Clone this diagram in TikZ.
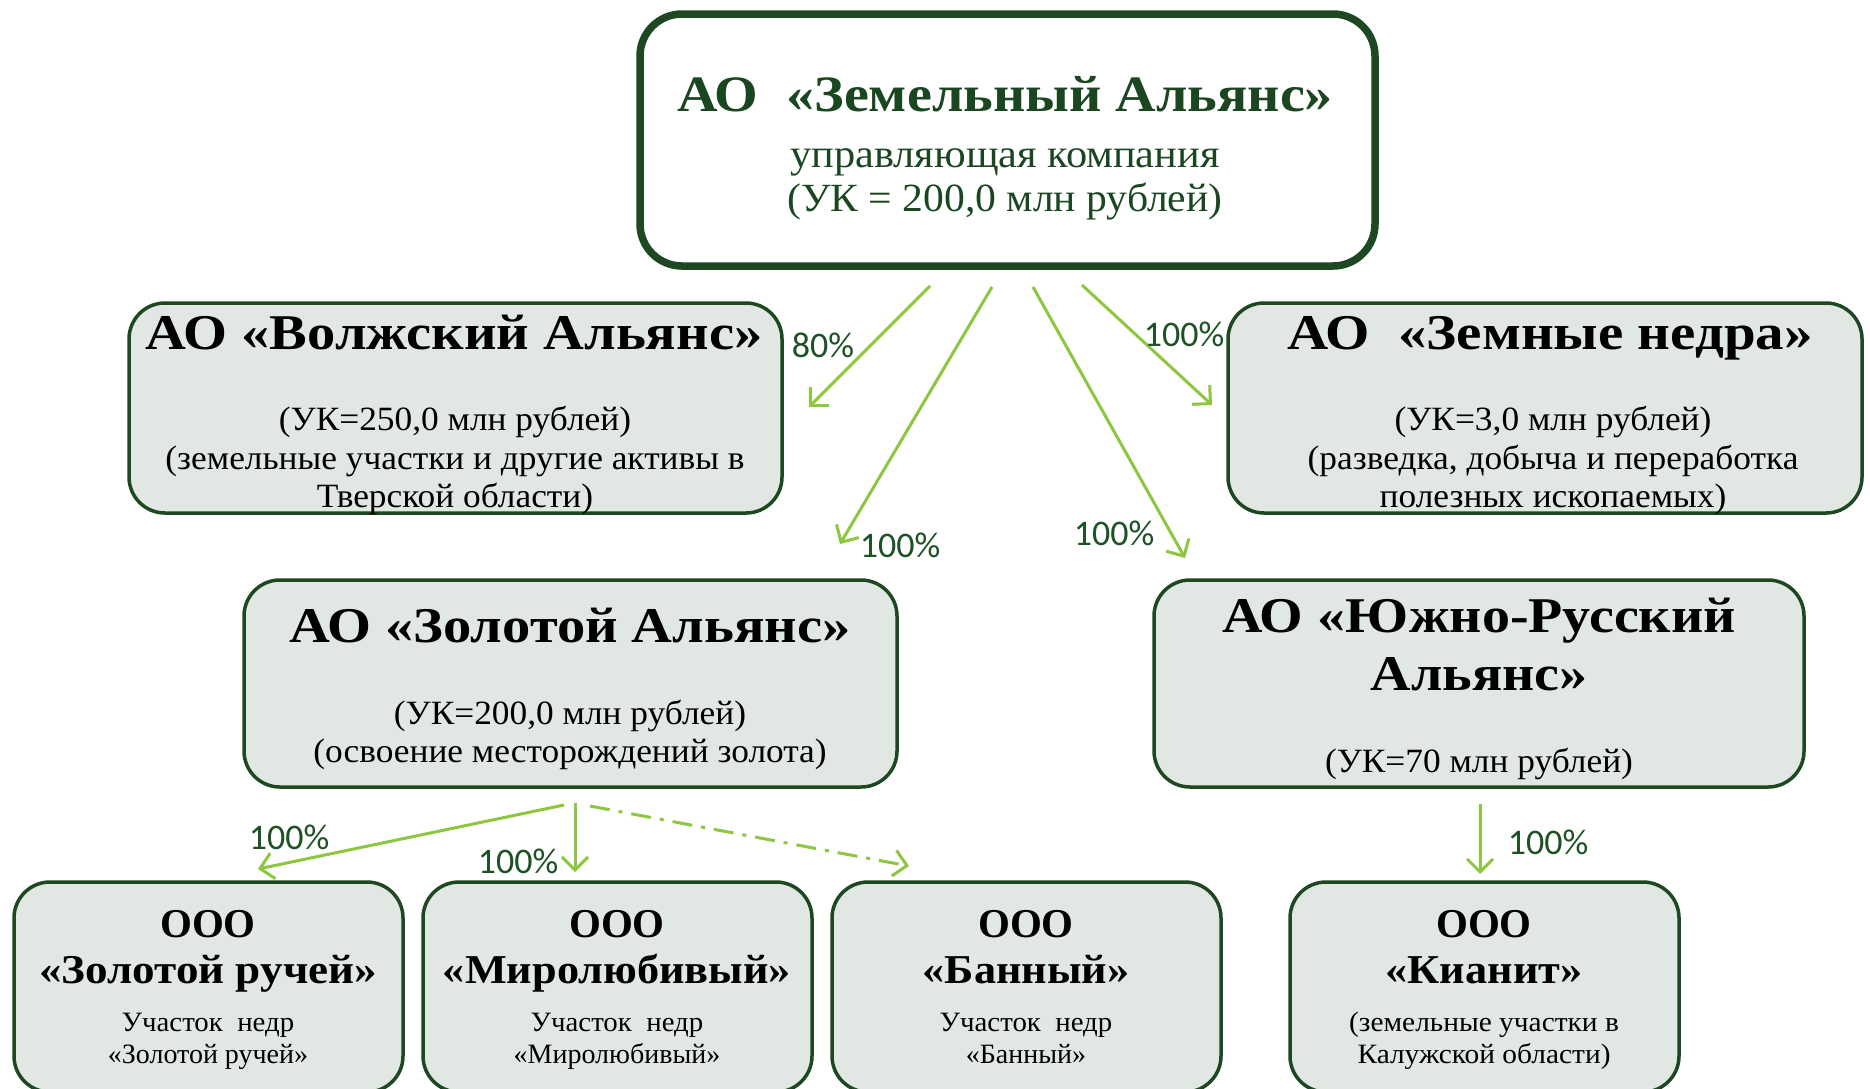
\documentclass[tikz,border=0pt]{standalone}
\usepackage{fontspec}
\setmainfont{Liberation Serif}
\newfontfamily\lblfont{Carlito}
\usetikzlibrary{arrows.meta}
\definecolor{dgreen}{RGB}{30,72,34}
\definecolor{tgreen}{RGB}{26,70,32}
\definecolor{boxfill}{RGB}{225,231,227}
\definecolor{lgreen}{RGB}{141,198,63}
\definecolor{lblgreen}{RGB}{28,82,36}
\newcommand\wx[2]{\scalebox{#1}[1]{#2}}
\begin{document}
\begin{tikzpicture}[x=1pt,y=-1pt,
  topbox/.style={draw=dgreen, line width=7.5pt, fill=white, rounded corners=42pt, inner sep=0pt},
  cbox/.style={draw=dgreen, line width=3.5pt, fill=boxfill, rounded corners=36pt, inner sep=0pt},
  ttl/.style={anchor=base, inner sep=0pt, font=\fontsize{50}{50}\selectfont\bfseries},
  toptl/.style={anchor=base, inner sep=0pt, text=tgreen, font=\fontsize{51}{51}\selectfont\bfseries},
  topsub/.style={anchor=base, inner sep=0pt, text=tgreen, font=\fontsize{40}{40}\selectfont},
  body/.style={anchor=base, inner sep=0pt, font=\fontsize{34}{34}\selectfont},
  sname/.style={anchor=base, inner sep=0pt, font=\fontsize{41}{41}\selectfont\bfseries},
  sbody/.style={anchor=base, inner sep=0pt, font=\fontsize{28}{28}\selectfont},
  pct/.style={inner sep=0pt, text=lblgreen, font=\lblfont\fontsize{36}{36}\selectfont},
  conn/.style={draw=lgreen, line width=3pt, -{Straight Barb[length=13pt,width=26pt]}},
  dconn/.style={conn, dash pattern=on 20pt off 9pt on 4pt off 9pt}
]
\useasboundingbox (0,0) rectangle (1870,1088);
\clip (0,0) rectangle (1870,1088);
\fill[white] (0,0) rectangle (1870,1088);

% boxes
\node[topbox, minimum width=735pt, minimum height=252pt] (top) at (1007.5,140) {};
\node[cbox, minimum width=653pt, minimum height=210pt] (volga) at (455.5,408) {};
\node[cbox, minimum width=634pt, minimum height=210pt] (nedra) at (1545,408) {};
\node[cbox, minimum width=653pt, minimum height=207pt] (zolot) at (570.5,683.5) {};
\node[cbox, minimum width=650pt, minimum height=207pt] (yug) at (1479,683.5) {};
\node[cbox, minimum width=389pt, minimum height=210pt] (ruchey) at (208.5,987) {};
\node[cbox, minimum width=389pt, minimum height=210pt] (mirol) at (617.5,987) {};
\node[cbox, minimum width=389pt, minimum height=210pt] (banny) at (1026.5,987) {};
\node[cbox, minimum width=389pt, minimum height=210pt] (kianit) at (1484.5,987) {};

% texts
\node[toptl] (topT) at (1005,111) {\wx{1.1}{АО\ \ «Земельный Альянс»}};
\node[topsub] (topS1) at (1005,167) {\wx{1.06}{управляющая компания}};
\node[topsub] (topS2) at (1005,211) {\wx{1.04}{(УК = 200,0 млн рублей)}};

\node[ttl] (volgaT) at (454,349) {\wx{1.13}{АО «Волжский Альянс»}};
\node[body] (volgaB1) at (455,430) {\wx{1.04}{(УК=250,0 млн рублей)}};
\node[body] (volgaB2) at (455,469) {\wx{1.04}{(земельные участки и другие активы в}};
\node[body] (volgaB3) at (455,507) {\wx{1.04}{Тверской области)}};

\node[ttl] (nedraT) at (1550,349) {\wx{1.14}{АО\ \ «Земные недра»}};
\node[body] (nedraB1) at (1553,430) {\wx{1.04}{(УК=3,0 млн рублей)}};
\node[body] (nedraB2) at (1553,469) {\wx{1.04}{(разведка, добыча и переработка}};
\node[body] (nedraB3) at (1553,507) {\wx{1.04}{полезных ископаемых)}};

\node[ttl] (zolotT) at (570,642) {\wx{1.13}{АО «Золотой Альянс»}};
\node[body] (zolotB1) at (570,724) {\wx{1.04}{(УК=200,0 млн рублей)}};
\node[body] (zolotB2) at (570,762) {\wx{1.04}{(освоение месторождений золота)}};

\node[ttl] (yugT1) at (1479,632) {\wx{1.12}{АО «Южно-Русский}};
\node[ttl] (yugT2) at (1479,690) {\wx{1.12}{Альянс»}};
\node[body] (yugB) at (1479,772) {\wx{1.04}{(УК=70 млн рублей)}};

\node[sname] (ruchey1) at (208,937) {ООО};
\node[sname] (ruchey2) at (208,983) {\wx{1.1}{«Золотой ручей»}};
\node[sbody] (ruchey3) at (208,1031) {\wx{1.03}{Участок\ \ недр}};
\node[sbody] (ruchey4) at (208,1063) {\wx{1.0}{«Золотой ручей»}};

\node[sname] (mirol1) at (617,937) {ООО};
\node[sname] (mirol2) at (617,983) {\wx{1.08}{«Миролюбивый»}};
\node[sbody] (mirol3) at (617,1031) {\wx{1.03}{Участок\ \ недр}};
\node[sbody] (mirol4) at (617,1063) {\wx{1.0}{«Миролюбивый»}};

\node[sname] (banny1) at (1026,937) {ООО};
\node[sname] (banny2) at (1026,983) {\wx{1.08}{«Банный»}};
\node[sbody] (banny3) at (1026,1031) {\wx{1.03}{Участок\ \ недр}};
\node[sbody] (banny4) at (1026,1063) {\wx{1.0}{«Банный»}};

\node[sname] (kianit1) at (1484,937) {ООО};
\node[sname] (kianit2) at (1484,983) {\wx{1.08}{«Кианит»}};
\node[sbody] (kianit3) at (1484,1031) {\wx{1.05}{(земельные участки в}};
\node[sbody] (kianit4) at (1484,1063) {\wx{1.05}{Калужской области)}};

% connector end points
\coordinate (s1) at (930,286);  \coordinate (e1) at (809,407);
\coordinate (s2) at (992,287);  \coordinate (e2) at (840,544);
\coordinate (s3) at (1033,287); \coordinate (e3) at (1185,558);
\coordinate (s4) at (1082,285); \coordinate (e4) at (1212,405);
\coordinate (s5) at (564,805);  \coordinate (e5) at (258,869);
\coordinate (s6) at (575,803);  \coordinate (e6) at (575,872);
\coordinate (s7) at (590,806);  \coordinate (e7) at (909,866);
\coordinate (s8) at (1480,804); \coordinate (e8) at (1480,874);

\draw[conn] (s1) -- (e1);
\draw[conn] (s2) -- (e2);
\draw[conn] (s3) -- (e3);
\draw[conn] (s4) -- (e4);
\draw[conn] (s5) -- (e5);
\draw[conn] (s6) -- (e6);
\draw[dconn] (s7) -- (e7);
\draw[conn] (s8) -- (e8);

% labels
\node[pct] (p1) at (823,345) {80\%};
\node[pct] (p2) at (900,545) {100\%};
\node[pct] (p3) at (1114,533) {100\%};
\node[pct] (p4) at (1184,334) {100\%};
\node[pct] (p5) at (289,837) {100\%};
\node[pct] (p6) at (518,861) {100\%};
\node[pct] (p8) at (1548,842) {100\%};
\end{tikzpicture}
\end{document}
